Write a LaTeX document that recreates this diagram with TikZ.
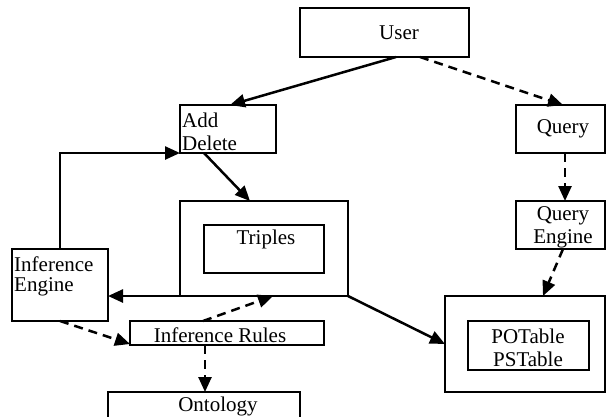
\documentclass[tikz,border=0pt]{standalone}
\usepackage{fontspec}
\setmainfont{Liberation Serif}
\usetikzlibrary{arrows.meta,calc}
\begin{document}
\begin{tikzpicture}[x=1pt,y=-1pt,
  box/.style={draw,line width=1.8pt,inner sep=0pt,outer sep=0pt,anchor=north west},
  txt/.style={inner sep=0pt,font=\fontsize{21}{24}\selectfont,align=center},
  ltxt/.style={inner sep=0pt,font=\fontsize{21}{24}\selectfont,anchor=west},
  conn/.style={line width=2.5pt,-{Triangle[length=15pt,width=13pt]}},
  dconn/.style={conn,dash pattern=on 9pt off 6pt}]
\useasboundingbox (0,0) rectangle (606,416);
% boxes
\node[box,minimum width=169pt,minimum height=49pt] (user) at (300,8) {};
\node[txt] (usert) at (399,33) {User};
\node[box,minimum width=96pt,minimum height=48pt] (adddel) at (180,105) {};
\node[ltxt] (addt) at (182,120) {Add};
\node[ltxt] (delt) at (182,143) {Delete};
\node[box,minimum width=89pt,minimum height=48pt] (query) at (516,105) {};
\node[txt] (queryt) at (563,129) {Query};
\node[box,minimum width=89pt,minimum height=48pt] (qengine) at (516,201) {};
\node[txt] (qenginet1) at (563,216) {Query};
\node[txt] (qenginet2) at (563,239) {Engine};
\node[box,minimum width=168pt,minimum height=95pt] (tout) at (180,201) {};
\node[box,minimum width=120pt,minimum height=48pt] (tin) at (204,225) {};
\node[txt] (tint) at (266,239) {Triples};
\node[box,minimum width=96pt,minimum height=72pt] (infeng) at (12,249) {};
\node[ltxt] (infengt1) at (14,264) {Inference};
\node[ltxt] (infengt2) at (14,287) {Engine};
\node[box,minimum width=194pt,minimum height=24pt] (infrules) at (130,321) {};
\node[txt] (infrulest) at (220,335) {Inference Rules};
\node[box,minimum width=192pt,minimum height=40pt] (onto) at (108,392) {};
\node[txt] (ontot) at (218,406) {Ontology};
\node[box,minimum width=160pt,minimum height=96pt] (pout) at (445,296) {};
\node[box,minimum width=121pt,minimum height=49pt] (pin) at (468,321) {};
\node[txt] (pint1) at (528,336) {POTable};
\node[txt] (pint2) at (528,359) {PSTable};
% connectors
\draw[conn] ($(user.south west)+(96,0)$) -- ($(adddel.north west)+(50,0)$);
\draw[dconn] ($(user.south west)+(120,0)$) -- ($(query.north west)+(47,0)$);
\draw[dconn] ($(query.south west)+(49,0)$) -- ($(qengine.north west)+(49,0)$);
\draw[dconn] ($(qengine.south west)+(47,0)$) -- ($(pout.north west)+(98,0)$);
\draw[conn] (tout.south east) -- ($(pout.north west)+(0,48)$);
\draw[conn] ($(adddel.south west)+(24,0)$) -- ($(tout.north west)+(70,0)$);
\draw[conn] ($(infeng.north west)+(48,0)$) |- (adddel.south west);
\draw[conn] (tout.south west) -- (infeng.east |- tout.south);
\draw[dconn] ($(infeng.south west)+(48,0)$) -- ($(infrules.south west)+(0,-1)$);
\draw[dconn] ($(infrules.north west)+(73,0)$) -- ($(tout.south west)+(93,0)$);
\draw[dconn] ($(infrules.south west)+(75,0)$) -- ($(onto.north west)+(97,0)$);
\end{tikzpicture}
\end{document}
